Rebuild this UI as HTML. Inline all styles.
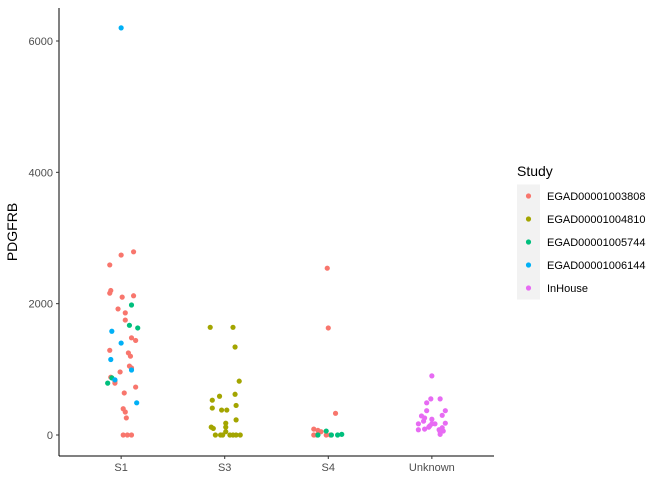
<!DOCTYPE html>
<html><head><meta charset="utf-8"><style>
body{margin:0;background:#fff;font-family:"Liberation Sans",sans-serif}
</style></head><body>
<svg id="c" width="672" height="480"></svg>
<script>
const categories=["S1","S3","S4","Unknown"];
const studies=["EGAD00001003808","EGAD00001004810","EGAD00001005744","EGAD00001006144","InHouse"];
const colors=["#F8766D","#A3A500","#00BF7D","#00B0F6","#E76BF3"];
const yTicks=[0,2000,4000,6000];
// each point: category index, study index, value, jitter (fraction of band)
const ptCat=[0,0,0,0,0,0,0,0,0,0,0,0,0,0,0,0,0,0,0,0,0,0,0,0,0,0,0,0,0,0,0,0,0,0,0,0,0,0,0,0,0,
1,1,1,1,1,1,1,1,1,1,1,1,1,1,1,1,1,1,1,1,1,1,1,1,
2,2,2,2,2,2,2,2,2,2,2,2,2,2,2,
3,3,3,3,3,3,3,3,3,3,3,3,3,3,3,3,3,3,3,3,3,3,3,3];
const ptStudy=[0,0,0,0,0,0,0,0,0,0,0,0,0,0,0,0,0,0,0,0,0,0,0,0,0,0,0,0,0,2,2,2,2,2,3,3,3,3,3,3,3,
1,1,1,1,1,1,1,1,1,1,1,1,1,1,1,1,1,1,1,1,1,1,1,1,
0,0,0,0,0,0,0,0,0,0,2,2,2,2,2,
4,4,4,4,4,4,4,4,4,4,4,4,4,4,4,4,4,4,4,4,4,4,4,4];
const ptVal=[2740,2790,2590,2200,2160,2100,2120,1920,1860,1750,1290,1480,1440,1250,1200,1050,1020,960,880,820,730,640,400,350,260,0,0,0,790,1980,1670,1630,870,790,6200,1580,1400,1150,990,840,490,
1640,1640,1340,820,620,590,530,410,380,380,450,230,180,120,50,120,100,0,0,0,0,0,0,0,
2540,1630,330,90,70,50,0,0,0,0,60,0,0,0,10,
900,550,550,490,370,370,300,290,260,240,170,210,170,180,140,170,90,80,80,110,60,50,10,120];
const ptJit=[0,0.12,-0.11,-0.1,-0.11,0.01,0.12,-0.03,0.04,0.04,-0.11,0.1,0.14,0.07,0.09,0.08,0.1,-0.01,-0.1,-0.06,0.14,0.03,0.02,0.04,0.05,0.02,0.06,0.1,-0.06,0.1,0.08,0.16,-0.09,-0.13,0,-0.09,0,-0.1,0.1,-0.06,0.15,
-0.14,0.08,0.1,0.14,0.1,-0.05,-0.12,-0.12,-0.03,0.02,0.11,0.11,0.01,0.01,0.01,-0.13,-0.11,-0.09,-0.04,-0.02,0.05,0.11,0.15,0.08,
-0.01,0,0.07,-0.14,-0.1,-0.07,-0.14,-0.11,-0.02,0.02,-0.02,-0.1,0.03,0.09,0.13,
0,0.08,-0.01,-0.05,0.13,-0.05,0.1,-0.1,-0.07,0,-0.13,-0.08,0,0.13,-0.02,0.03,-0.07,-0.13,0.07,0.1,0.11,0.08,0.08,-0.03];
const NS="http://www.w3.org/2000/svg",svg=document.getElementById("c");
function mk(t,a,p){const e=document.createElementNS(NS,t);for(const k in a)e.setAttribute(k,a[k]);(p||svg).appendChild(e);return e;}
const L=59,R=494,T=8,B=456;
const band=(R-L)/(categories.length-1+1.2);
const x=i=>L+band*(i+0.6);
const y=v=>435-v*(435-41)/6000;
let e;
e=mk("line",{x1:L,y1:T,x2:L,y2:B,stroke:"#000","stroke-width":1});


e=mk("line",{x1:L,y1:B,x2:R,y2:B,stroke:"#000","stroke-width":1});


yTicks.forEach(v=>{
 mk("line",{x1:L-3,x2:L,y1:y(v),y2:y(v),stroke:"#333"});
 e=mk("text",{x:L-6,y:y(v)+4,"text-anchor":"end","font-size":11,fill:"#4d4d4d"});e.textContent=v;
 
 
});
categories.forEach((c,i)=>{
 mk("line",{x1:x(i),x2:x(i),y1:B,y2:B+3,stroke:"#333"});
 e=mk("text",{x:x(i),y:B+15,"text-anchor":"middle","font-size":11,fill:"#4d4d4d"});e.textContent=c;
 
 
});
e=mk("text",{x:0,y:0,transform:"translate(17,232) rotate(-90)","text-anchor":"middle","font-size":14,fill:"#000"});e.textContent="PDGFRB";


ptVal.forEach((v,k)=>{
 e=mk("circle",{cx:x(ptCat[k])+ptJit[k]*band,cy:y(v),r:2.6,fill:colors[ptStudy[k]]});
 
 
});
e=mk("text",{x:517,y:176,"font-size":14,fill:"#000"});e.textContent="Study";


studies.forEach((s,i)=>{
 const cy=196+i*23;
 e=mk("rect",{x:517,y:cy-11.5,width:23,height:23,fill:"#f2f2f2"});
 
 
 mk("circle",{cx:528.5,cy:cy,r:2.6,fill:colors[i]});
 e=mk("text",{x:547,y:cy+4,"font-size":11,fill:"#000"});e.textContent=s;
 
 
});
</script>
</body></html>
